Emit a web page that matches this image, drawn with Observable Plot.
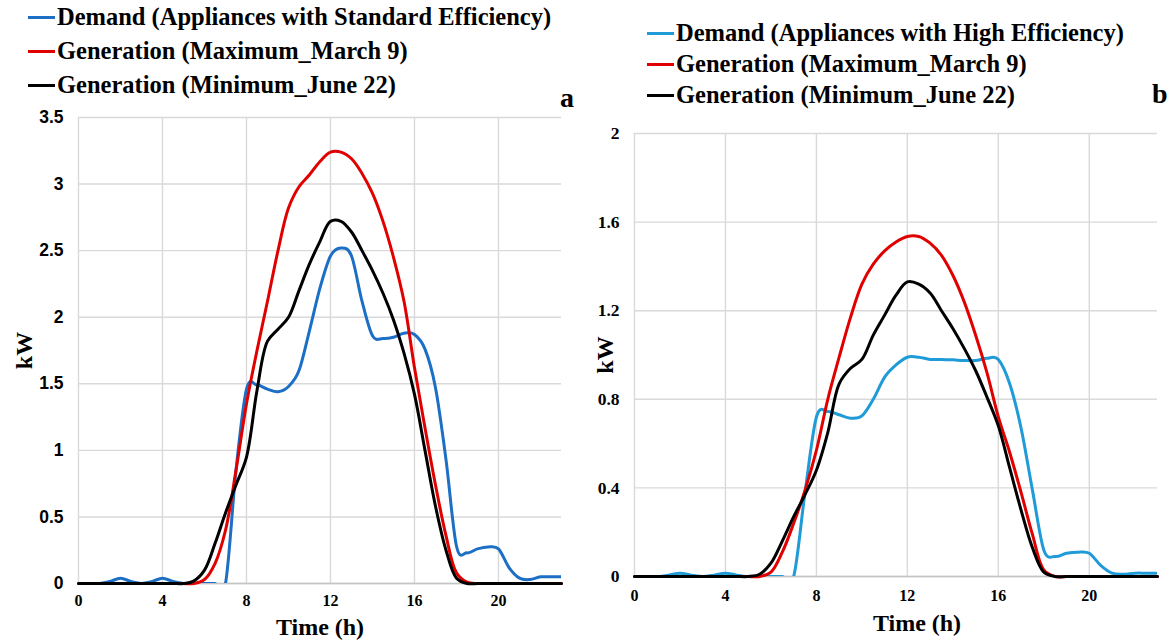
<!DOCTYPE html>
<html>
<head>
<meta charset="utf-8">
<script src="https://cdn.jsdelivr.net/npm/d3@7"></script>
<script src="https://cdn.jsdelivr.net/npm/@observablehq/plot@0.6"></script>
<style>
  html, body { margin: 0; padding: 0; background: #fff; }
  body { width: 1171px; height: 642px; overflow: hidden; position: relative;
         font-family: "Liberation Serif", "Times New Roman", serif; }
  .panel { position: absolute; top: 0; }
  .row { position: absolute; white-space: nowrap; display: flex; align-items: center;
         font-weight: bold; font-size: 24.5px; line-height: 28px; height: 28px; color: #000; }
  .sw { display: inline-block; width: 27px; height: 3px; margin-right: 2px; }
  .tag { position: absolute; font-weight: bold; font-size: 28px; line-height: 28px; }
</style>
</head>
<body>
<div id="pa" class="panel" style="left:0px"></div>
<div id="pb" class="panel" style="left:590px"></div>
<script>
// ---------- data ----------
const hours = [0,0.5,1,1.5,2,2.5,3,3.5,4,4.5,5,5.5,6,6.5,7,7.5,8,8.5,9,9.5,10,10.5,11,11.5,12,12.5,13,13.5,14,14.5,15,15.5,16,16.5,17,17.5,18,18.5,19,19.5,20,20.5,21,21.5,22,22.5,23];

// panel a (kW)
const demandStd = [0,0,0,0.015,0.04,0.015,0,0.015,0.04,0.015,0,0,0,0,0,0.85,1.46,1.49,1.46,1.44,1.48,1.6,1.9,2.22,2.46,2.52,2.46,2.12,1.86,1.84,1.85,1.88,1.87,1.76,1.47,0.93,0.28,0.23,0.26,0.275,0.26,0.12,0.04,0.03,0.05,0.05,0.05];
const genMaxA   = [0,0,0,0,0,0,0,0,0,0,0,0,0.03,0.15,0.4,0.85,1.35,1.75,2.12,2.5,2.82,2.98,3.07,3.17,3.24,3.24,3.19,3.08,2.93,2.72,2.45,2.12,1.62,1.17,0.74,0.36,0.08,0.01,0,0,0,0,0,0,0,0,0];
const genMinA   = [0,0,0,0,0,0,0,0,0,0,0,0.02,0.1,0.3,0.53,0.74,0.95,1.45,1.82,1.91,2.0,2.2,2.4,2.57,2.72,2.72,2.64,2.5,2.35,2.18,1.98,1.73,1.42,1.0,0.58,0.25,0.04,0,0,0,0,0,0,0,0,0,0];

// panel b (kW)
const demandHigh = [0,0,0,0.006,0.015,0.006,0,0.006,0.015,0.006,0,0,0,0,0,0.38,0.72,0.745,0.73,0.715,0.725,0.8,0.9,0.955,0.99,0.99,0.98,0.98,0.978,0.975,0.975,0.985,0.98,0.87,0.67,0.39,0.12,0.09,0.105,0.11,0.105,0.05,0.015,0.01,0.015,0.015,0.015];
const genMaxB    = [0,0,0,0,0,0,0,0,0,0,0,0,0.02,0.11,0.24,0.39,0.57,0.8,0.99,1.17,1.32,1.41,1.47,1.51,1.535,1.535,1.505,1.45,1.36,1.24,1.09,0.92,0.72,0.56,0.38,0.19,0.03,0,0,0,0,0,0,0,0,0,0];
const genMinB    = [0,0,0,0,0,0,0,0,0,0,0,0.01,0.06,0.16,0.27,0.37,0.48,0.65,0.87,0.94,0.98,1.09,1.18,1.27,1.33,1.32,1.28,1.2,1.12,1.03,0.93,0.81,0.68,0.49,0.3,0.13,0.02,0,0,0,0,0,0,0,0,0,0];

const xTicks  = [0,4,8,12,16,20];
const yTicksA = [0,0.5,1,1.5,2,2.5,3,3.5];
const yTicksB = [0,0.4,0.8,1.2,1.6,2];

const legendA = ["Demand (Appliances with Standard Efficiency)", "Generation (Maximum_March 9)", "Generation (Minimum_June 22)"];
const legendB = ["Demand (Appliances with High Efficiency)", "Generation (Maximum_March 9)", "Generation (Minimum_June 22)"];
const xLabel = "Time (h)";
const yLabel = "kW";

// ---------- styles ----------
const colorsA = ["#1c6fc4", "#e00000", "#000000"];
const colorsB = ["#1f9bd7", "#e00000", "#000000"];
const serif = "Liberation Serif";
const sans = "Liberation Sans";
const gridColor = "#d9d9d9";
const fmt = d => String(d);
const smooth = d3.curveCatmullRom.alpha(0);

const rows = vals => hours.map((h, i) => ({h, v: vals[i]}));

function panel({width, marginLeft, marginRight, marginTop, marginBottom, yMax, yTicks, yFont, series, colors, tickPadX, xLabelDx, xLabelDy, yLabelDx}) {
  return Plot.plot({
    width, height: 642, marginLeft, marginRight, marginTop, marginBottom,
    style: {background: "transparent", overflow: "visible"},
    x: {domain: [0, 23]},
    y: {domain: [0, yMax]},
    marks: [
      Plot.gridX(xTicks, {stroke: gridColor, strokeOpacity: 1, strokeWidth: 1.4}),
      Plot.gridY(yTicks, {stroke: gridColor, strokeOpacity: 1, strokeWidth: 1.4}),
      Plot.ruleY([0], {stroke: "#c4c4c4", strokeWidth: 1.6}),
      Plot.line(rows(series[0]), {x: "h", y: "v", stroke: colors[0], strokeWidth: 3, curve: smooth, clip: true}),
      Plot.line(rows(series[1]), {x: "h", y: "v", stroke: colors[1], strokeWidth: 3, curve: "catmull-rom"}),
      Plot.line(rows(series[2]), {x: "h", y: "v", stroke: colors[2], strokeWidth: 3, curve: "catmull-rom"}),
      Plot.axisX(xTicks, {tickSize: 0, tickPadding: tickPadX, tickFormat: fmt, fontSize: 16, fontWeight: "bold", fontFamily: serif, fill: "#000", label: null}),
      Plot.axisY(yTicks, {tickSize: 0, tickPadding: 15, tickFormat: fmt, fontSize: 17.5, fontWeight: "bold", fontFamily: yFont, fill: "#000", label: null}),
      Plot.text([xLabel], {frameAnchor: "bottom", dx: xLabelDx, dy: xLabelDy, fontSize: 24, fontWeight: "bold", fontFamily: serif, fill: "#000"}),
      Plot.text([yLabel], {frameAnchor: "left", textAnchor: "middle", dx: yLabelDx, rotate: -90, fontSize: 24, fontWeight: "bold", fontFamily: serif, fill: "#000"})
    ]
  });
}

document.getElementById("pa").appendChild(panel({
  width: 590, marginLeft: 78, marginRight: 29, marginTop: 117, marginBottom: 59,
  yMax: 3.5, yTicks: yTicksA, yFont: sans,
  series: [demandStd, genMaxA, genMinA], colors: colorsA,
  tickPadX: 11, xLabelDx: 0, xLabelDy: 51, yLabelDx: -54
}));
document.getElementById("pb").appendChild(panel({
  width: 581, marginLeft: 44, marginRight: 14, marginTop: 133, marginBottom: 66,
  yMax: 2, yTicks: yTicksB, yFont: serif,
  series: [demandHigh, genMaxB, genMinB], colors: colorsB,
  tickPadX: 13, xLabelDx: 21, xLabelDy: 54, yLabelDx: -29
}));

// ---------- legends & panel tags ----------
function legend(labels, colors, left, centers) {
  labels.forEach((t, i) => {
    const r = document.createElement("div");
    r.className = "row";
    r.style.left = left + "px";
    r.style.top = (centers[i] - 14) + "px";
    const s = document.createElement("span");
    s.className = "sw";
    s.style.background = colors[i];
    r.appendChild(s);
    r.appendChild(document.createTextNode(t));
    document.body.appendChild(r);
  });
}
legend(legendA, colorsA, 28, [17, 51, 85]);
legend(legendB, colorsB, 647, [33, 64, 95]);

function tag(t, cx, cy) {
  const d = document.createElement("div");
  d.className = "tag";
  d.textContent = t;
  d.style.left = (cx - 8) + "px";
  d.style.top = (cy - 16) + "px";
  document.body.appendChild(d);
}
tag("a", 568, 100);
tag("b", 1160, 96);
</script>
</body>
</html>
